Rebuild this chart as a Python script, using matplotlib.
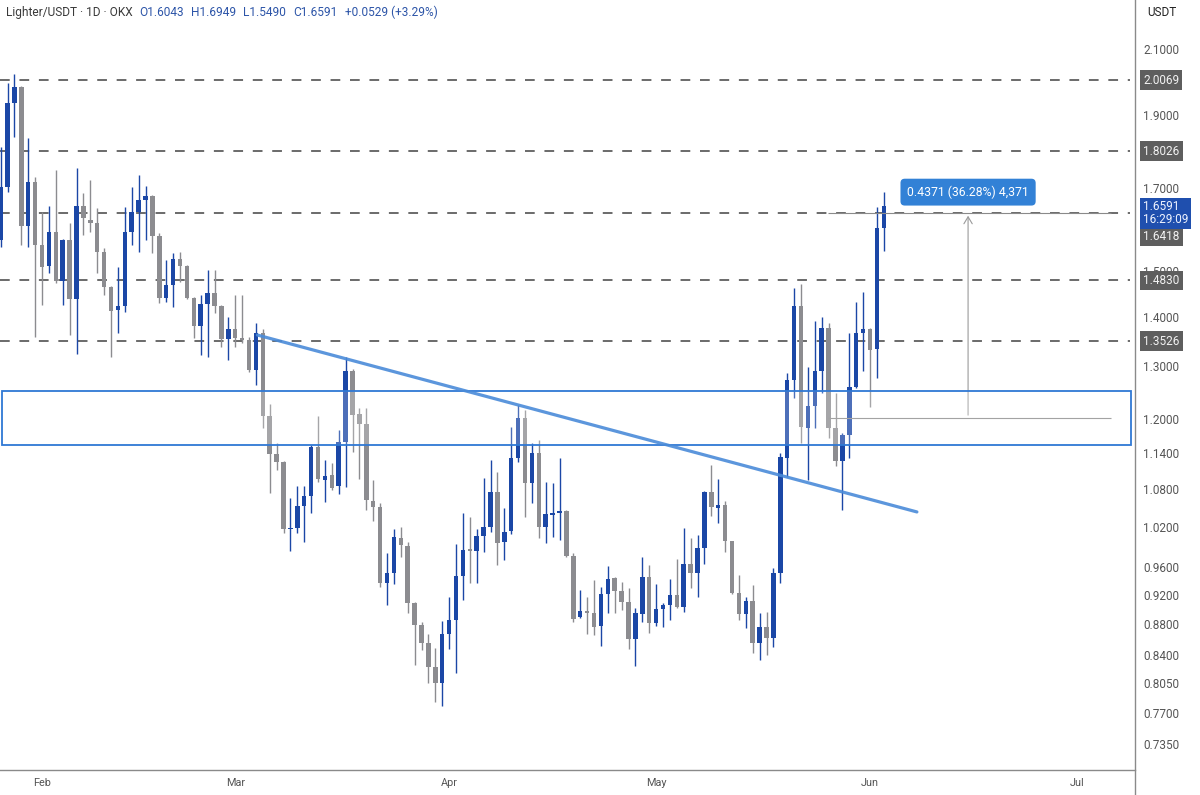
import matplotlib
matplotlib.use("Agg")
import matplotlib.pyplot as plt
import matplotlib.dates as mdates
import pandas as pd
from matplotlib.patches import Rectangle
from matplotlib.lines import Line2D
from matplotlib.ticker import NullLocator

plt.rcParams["font.family"] = ["Roboto", "DejaVu Sans"]
plt.rcParams["lines.scale_dashes"] = False

# --- DATA: daily candles (first candle = 26 Jan) ---
first_day = "2026-01-26"
opens = [1.576, 1.707, 1.938, 1.986, 1.610, 1.720, 1.564, 1.515, 1.595, 1.481,
         1.576, 1.442, 1.660, 1.624, 1.617, 1.548, 1.468, 1.418, 1.427, 1.595,
         1.644, 1.674, 1.684, 1.586, 1.444, 1.473, 1.531, 1.515, 1.444, 1.384,
         1.431, 1.455, 1.427, 1.357, 1.378, 1.359, 1.355, 1.295, 1.370, 1.208,
         1.141, 1.127, 1.018, 1.020, 1.055, 1.071, 1.153, 1.097, 1.105, 1.087,
         1.162, 1.293, 1.212, 1.194, 1.063, 1.053, 0.939, 0.953, 1.005, 0.993,
         0.911, 0.881, 0.858, 0.827, 0.807, 0.869, 0.888, 0.949, 0.988, 0.985,
         1.008, 1.022, 1.077, 0.999, 1.016, 1.134, 1.205, 1.092, 1.143, 1.022,
         1.041, 1.044, 1.047, 0.978, 0.892, 0.900, 0.897, 0.880, 0.923, 0.946,
         0.928, 0.912, 0.863, 0.896, 0.947, 0.884, 0.903, 0.908, 0.922, 0.906,
         0.966, 0.953, 0.990, 1.077, 1.051, 1.056, 1.000, 0.925, 0.896, 0.914,
         0.858, 0.879, 0.864, 0.953, 1.134, 1.276, 1.427, 1.186, 1.227, 1.293,
         1.380, 1.186, 1.129, 1.174, 1.262, 1.370, 1.378, 1.337, 1.6043]
highs = [1.814, 1.998, 2.025, 1.990, 1.839, 1.733, 1.644, 1.659, 1.752, 1.578,
         1.617, 1.757, 1.692, 1.726, 1.654, 1.557, 1.470, 1.513, 1.657, 1.707,
         1.739, 1.710, 1.687, 1.593, 1.529, 1.545, 1.548, 1.518, 1.446, 1.451,
         1.506, 1.506, 1.428, 1.403, 1.451, 1.451, 1.362, 1.390, 1.378, 1.230,
         1.160, 1.129, 1.067, 1.087, 1.087, 1.156, 1.208, 1.131, 1.125, 1.183,
         1.321, 1.297, 1.223, 1.223, 1.097, 1.059, 0.982, 1.019, 1.022, 0.999,
         0.912, 0.885, 0.869, 0.851, 0.887, 0.919, 0.996, 1.044, 1.037, 1.019,
         1.100, 1.131, 1.110, 1.051, 1.188, 1.228, 1.219, 1.160, 1.165, 1.094,
         1.092, 1.134, 1.048, 0.982, 0.929, 0.919, 0.943, 0.933, 0.963, 0.947,
         0.940, 0.932, 0.904, 0.976, 0.965, 0.938, 0.911, 0.945, 0.974, 1.020,
         1.005, 1.010, 1.079, 1.122, 1.099, 1.063, 1.001, 0.950, 0.919, 0.936,
         0.897, 0.899, 0.960, 1.143, 1.289, 1.466, 1.475, 1.301, 1.395, 1.403,
         1.390, 1.251, 1.178, 1.370, 1.435, 1.457, 1.380, 1.657, 1.6949]
lows = [1.560, 1.694, 1.841, 1.564, 1.560, 1.361, 1.429, 1.499, 1.477, 1.429,
        1.365, 1.327, 1.588, 1.595, 1.499, 1.450, 1.321, 1.370, 1.414, 1.564,
        1.548, 1.576, 1.545, 1.433, 1.435, 1.424, 1.479, 1.442, 1.359, 1.325,
        1.321, 1.412, 1.341, 1.315, 1.341, 1.349, 1.291, 1.266, 1.187, 1.076,
        1.114, 1.012, 0.985, 1.012, 0.999, 1.044, 1.094, 1.061, 1.080, 1.074,
        1.085, 1.144, 1.099, 1.048, 1.031, 0.933, 0.908, 0.937, 0.976, 0.897,
        0.830, 0.849, 0.807, 0.784, 0.780, 0.850, 0.820, 0.915, 0.939, 0.939,
        0.984, 1.014, 0.965, 0.972, 1.011, 1.127, 1.037, 1.059, 1.005, 0.997,
        1.006, 1.002, 0.976, 0.885, 0.890, 0.869, 0.868, 0.854, 0.897, 0.897,
        0.901, 0.850, 0.828, 0.885, 0.871, 0.880, 0.879, 0.888, 0.904, 0.899,
        0.932, 0.919, 0.966, 1.039, 1.028, 0.984, 0.923, 0.888, 0.877, 0.845,
        0.836, 0.842, 0.852, 0.939, 1.102, 1.242, 1.160, 1.097, 1.186, 1.251,
        1.169, 1.120, 1.048, 1.134, 1.260, 1.293, 1.225, 1.280, 1.5490]
closes = [1.707, 1.938, 1.986, 1.610, 1.720, 1.564, 1.513, 1.595, 1.481, 1.576,
          1.442, 1.659, 1.629, 1.617, 1.548, 1.468, 1.416, 1.427, 1.595, 1.644,
          1.674, 1.684, 1.586, 1.444, 1.473, 1.531, 1.515, 1.444, 1.384, 1.431,
          1.455, 1.427, 1.357, 1.378, 1.359, 1.355, 1.295, 1.370, 1.208, 1.141,
          1.127, 1.019, 1.020, 1.055, 1.071, 1.153, 1.099, 1.104, 1.084, 1.162,
          1.293, 1.210, 1.194, 1.064, 1.053, 0.939, 0.953, 1.006, 0.994, 0.911,
          0.881, 0.858, 0.827, 0.807, 0.869, 0.888, 0.949, 0.987, 0.985, 1.008,
          1.022, 1.077, 0.997, 1.014, 1.134, 1.205, 1.092, 1.143, 1.022, 1.042,
          1.044, 1.047, 0.978, 0.889, 0.900, 0.897, 0.879, 0.923, 0.945, 0.928,
          0.912, 0.863, 0.897, 0.947, 0.884, 0.903, 0.908, 0.922, 0.906, 0.966,
          0.953, 0.990, 1.077, 1.053, 1.056, 1.000, 0.925, 0.896, 0.914, 0.858,
          0.879, 0.864, 0.953, 1.136, 1.276, 1.427, 1.188, 1.227, 1.293, 1.380,
          1.186, 1.129, 1.174, 1.262, 1.370, 1.378, 1.335, 1.604, 1.6591]

# horizontal levels (dashed) and demand zone
levels = [2.0069, 1.8026, 1.6418, 1.4830, 1.3526]
zone_dates = ["2026-01-26 05:00", "2026-07-08 19:00"]
zone_prices = [1.1563, 1.2548]

# descending trendline
trend_dates = ["2026-03-04 05:00", "2026-06-07 19:00"]
trend_prices = [1.3654, 1.0452]

# measurement tool
measure_dates = ["2026-05-25 22:00", "2026-07-05 22:00"]
measure_arrow_date = "2026-06-15 05:00"
measure_prices = [1.2047, 1.6418]
measure_text = "0.4371 (36.28%) 4,371"

price_ticks = [2.1, 1.9, 1.7, 1.5, 1.4, 1.3, 1.2, 1.14, 1.08, 1.02,
               0.96, 0.92, 0.88, 0.84, 0.805, 0.77, 0.735]
last_time = "16:29:09"

title_name = "Lighter/USDT · 1D · OKX"
title_values = ["O1.6043", "H1.6949", "L1.5490", "C1.6591", "+0.0529 (+3.29%)"]

# --- STYLE ---
UP = "#1b47a6"
DOWN = "#8c8c90"
W, H = 1200, 795
AX_RIGHT_PX = 1135
AX_BOTTOM_PX = 770

fig = plt.figure(figsize=(W / 100, H / 100), dpi=100)
fig.patch.set_facecolor("white")
bottom = (H - AX_BOTTOM_PX) / H
right = AX_RIGHT_PX / W
ax = fig.add_axes([0, bottom, right, 1 - bottom])
ax.set_yscale("log")
ylim = (0.7078, 2.2648)
ax.set_ylim(*ylim)

dates = pd.date_range(first_day, periods=len(opens), freq="D")
x = mdates.date2num(dates)
feb1 = mdates.date2num(pd.Timestamp("2026-02-01"))
ax.set_xlim(feb1 - 6.09, feb1 + 158.4)

# candles
cols = [UP if c >= o else DOWN for o, c in zip(opens, closes)]
body_lo = [min(o, c) for o, c in zip(opens, closes)]
body_h = [max(abs(c - o), 0.0025 * o) for o, c in zip(opens, closes)]
ax.vlines(x, lows, highs, colors=cols, lw=1.0, zorder=2)
ax.bar(x, body_h, bottom=body_lo, width=0.65, color=cols, linewidth=0, zorder=3)

# dashed levels
for lv in levels:
    ax.axhline(lv, xmin=0, xmax=1130 / AX_RIGHT_PX, color="#6a6a6a", lw=1.4,
               ls=(0, (7, 7)), zorder=1)

# zone box
zx = mdates.date2num(pd.to_datetime(zone_dates))
ax.add_patch(Rectangle((zx[0], zone_prices[0]), zx[1] - zx[0], zone_prices[1] - zone_prices[0],
                       facecolor=(1, 1, 1, 0.22), edgecolor="#2f78d4", lw=1.3, zorder=5))

# trendline
tx = mdates.date2num(pd.to_datetime(trend_dates))
ax.plot(tx, trend_prices, color="#4a8bd9", lw=2.3, alpha=0.9, solid_capstyle="round", zorder=6)

# measurement
mx = mdates.date2num(pd.to_datetime(measure_dates))
ma = mdates.date2num(pd.Timestamp(measure_arrow_date))
ax.hlines(measure_prices, mx[0], mx[1], color="#8a8a8a", lw=0.8, zorder=4)
ax.annotate("", xy=(ma, measure_prices[1]), xytext=(ma, measure_prices[0]),
            arrowprops=dict(arrowstyle="->,head_length=0.5,head_width=0.3", color="#9a9a9a", lw=0.8),
            zorder=4)
ax.annotate(measure_text, xy=(ma, measure_prices[1]), xytext=(0, 15), textcoords="offset points",
            ha="center", va="center", color="white", fontsize=8.8,
            bbox=dict(boxstyle="round,pad=0.55,rounding_size=0.35", fc="#3281d6", ec="none"),
            zorder=7)

# axes cosmetics
for s in ["top", "left", "right"]:
    ax.spines[s].set_visible(False)
ax.spines["bottom"].set_color("#8a8a8a")
ax.spines["bottom"].set_linewidth(1.0)
ax.yaxis.set_major_locator(NullLocator())
ax.yaxis.set_minor_locator(NullLocator())
ax.xaxis.set_major_locator(mdates.MonthLocator())
ax.xaxis.set_major_formatter(mdates.DateFormatter("%b"))
ax.tick_params(axis="x", length=0, pad=6, labelsize=7.8, labelcolor="#555555")
ax.set_facecolor("white")

# price scale
pax = fig.add_axes([right, bottom, 1 - right, 1 - bottom])
pax.set_yscale("log")
pax.set_ylim(*ylim)
pax.set_xlim(0, W - AX_RIGHT_PX)
pax.axis("off")
for v in price_ticks:
    pax.text(8, v, f"{v:.4f}", ha="left", va="center", fontsize=8.5, color="#555555")

last = closes[-1]
for lv in levels:
    # the level just below the last price is pushed down under the last-price tag
    off = -17 if lv < last and lv > last * 0.97 else 0
    pax.annotate(f"{lv:.4f}", xy=(8, lv), xytext=(0, off), textcoords="offset points",
                 ha="left", va="center", fontsize=8.5, color="#f2f2f2",
                 bbox=dict(boxstyle="square,pad=0.28", fc="#5e5e5e", ec="none"), zorder=5)
pax.annotate(f"{last:.4f}\n{last_time}", xy=(8, last), xytext=(0, 4), textcoords="offset points",
             ha="left", va="top", fontsize=8.5, color="#eef3ff", linespacing=1.0,
             bbox=dict(boxstyle="square,pad=0.25", fc="#1f4fae", ec="none"), zorder=6)

fig.text(1147 / W, 1 - 12 / H, "USDT", fontsize=8.5, color="#222222", va="center", ha="left")
fig.add_artist(Line2D([right, right], [0, 1], color="#8a8a8a", lw=1.0))

# title line: symbol in dark grey, OHLC values in blue
renderer = fig.canvas.get_renderer()
t = fig.text(6 / W, 1 - 16 / H, title_name, fontsize=8.6, va="baseline", ha="left", color="#3a3a3a")
px = t.get_window_extent(renderer).x1
for s in title_values:
    t = fig.text((px + 7) / W, 1 - 16 / H, s, fontsize=8.6, va="baseline", ha="left", color="#2d55a8")
    px = t.get_window_extent(renderer).x1

fig.savefig("out.png", dpi=100)
